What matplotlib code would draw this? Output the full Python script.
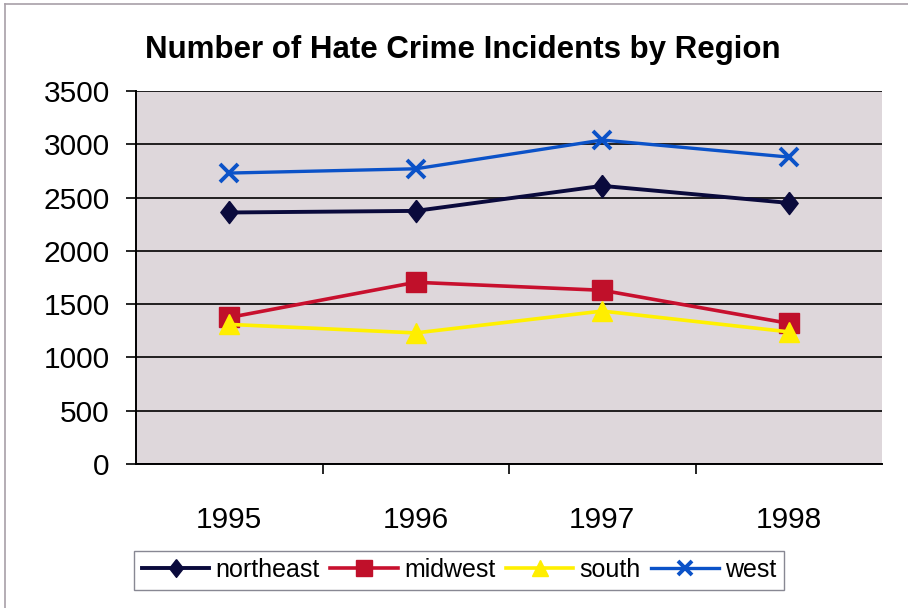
import matplotlib
matplotlib.use("Agg")
import matplotlib.pyplot as plt
from matplotlib.lines import Line2D

plt.rcParams['font.family'] = ['Liberation Sans', 'DejaVu Sans']

years = ["1995", "1996", "1997", "1998"]
northeast = [2360, 2375, 2610, 2450]
midwest = [1375, 1705, 1630, 1320]
south = [1310, 1230, 1435, 1240]
west = [2730, 2770, 3040, 2880]

diamond = [(0, 1.0), (0.78, 0), (0, -1.0), (-0.78, 0), (0, 1.0)]
series = [
    ("northeast", northeast, "#0a0a3c", "#0a0a3c", diamond, 16, 1.0, 2.8),
    ("midwest", midwest, "#c8102e", "#c0102a", "s", 14, 1.0, 2.6),
    ("south", south, "#fff000", "#ffee00", "^", 15, 1.0, 2.6),
    ("west", west, "#0b52c8", "#0b52c8", "x", 13, 2.8, 2.4),
]

fig = plt.figure(figsize=(9.08, 6.08), dpi=100)
fig.patch.set_facecolor("white")

# light frame around the chart area
fig.add_artist(Line2D([0.006, 0.006], [0.0, 0.994], transform=fig.transFigure,
                      color="#a8a0a8", lw=1.2))
fig.add_artist(Line2D([0.006, 1.0], [0.994, 0.994], transform=fig.transFigure,
                      color="#a8a0a8", lw=1.2))

ax = fig.add_axes([136 / 908, 1 - 464 / 608, 746 / 908, 373 / 608])
ax.set_facecolor("#ded7db")

x = list(range(len(years)))
for name, vals, lc, mc, mk, ms, mew, lw in series:
    ax.plot(x, vals, color=lc, lw=lw, marker=mk, markersize=ms,
            markerfacecolor=mc, markeredgecolor=mc, markeredgewidth=mew,
            label=name, zorder=3)

ax.set_xlim(-0.5, 3.5)
ax.set_ylim(0, 3500)
ax.set_yticks(range(0, 3501, 500))
ax.set_xticks(x)
ax.set_xticklabels(years)
ax.set_xticks([0.5, 1.5, 2.5], minor=True)

ax.grid(axis="y", color="black", lw=1.2, zorder=1)
ax.set_axisbelow(True)
for s in ["top", "right"]:
    ax.spines[s].set_visible(False)
for s in ["left", "bottom"]:
    ax.spines[s].set_color("black")
    ax.spines[s].set_linewidth(1.4)

ax.tick_params(axis="y", which="major", length=7, width=1.2, direction="out",
               labelsize=21.5, pad=12)
ax.tick_params(axis="x", which="major", length=0, labelsize=21.5, pad=30)
ax.tick_params(axis="x", which="minor", length=7, width=1.2, direction="out")

fig.text(463 / 908, 1 - 50 / 608, "Number of Hate Crime Incidents by Region",
         ha="center", va="center", fontsize=22.5, fontweight="bold")

leg = fig.legend(loc="center", bbox_to_anchor=(459 / 908, 1 - 570 / 608), ncol=4,
                 fontsize=18, frameon=True, fancybox=False, edgecolor="#6a6a78",
                 handlelength=2.7, handletextpad=0.25, columnspacing=0.42,
                 borderpad=0.3, markerscale=0.8)
leg.get_frame().set_linewidth(1.0)

fig.savefig("out.png", dpi=100, facecolor="white")
